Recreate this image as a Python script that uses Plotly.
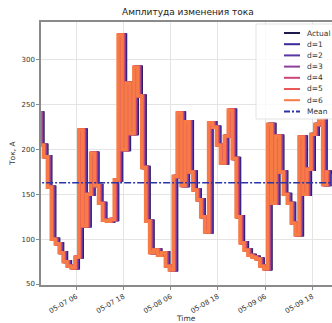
import pandas as pd
import plotly.graph_objects as go

# ---------------- data ----------------
start_time = "2021-05-06 21:00"
actual = [241, 205, 192, 158, 100, 95, 85, 75, 70, 68,
          80, 222, 115, 150, 196, 160, 140, 121, 120, 122,
          166, 328, 200, 274, 218, 292, 260, 180, 120, 85,
          88, 82, 85, 70, 66, 170, 241, 160, 231, 175,
          155, 144, 125, 108, 230, 225, 205, 185, 215, 244,
          190, 125, 96, 88, 82, 80, 78, 70, 67, 228,
          140, 215, 175, 150, 140, 118, 105, 214, 150, 178,
          217, 228, 233, 161, 175]
mean_value = 163
shifts = [0, 1, 2, 3, 4, 5, 6]          # d steps
series_names = ["Actual", "d=1", "d=2", "d=3", "d=4", "d=5", "d=6"]
series_colors = ["#1e1a4e", "#3a2c98", "#5a36a8", "#8e3f9c", "#c9477a", "#ea5858", "#f77b46"]
mean_name = "Mean"
mean_color = "#2b35a8"
tick_times = ["2021-05-07 06:00", "2021-05-07 18:00", "2021-05-08 06:00",
              "2021-05-08 18:00", "2021-05-09 06:00", "2021-05-09 18:00"]
tick_labels = ["05-07 06", "05-07 18", "05-08 06", "05-08 18", "05-09 06", "05-09 18"]
y_ticks = [50, 100, 150, 200, 250, 300]
title_text = "Амплитуда изменения тока"
x_title = "Time"
y_title = "Ток, А"

# ---------------- figure ----------------
W, H = 332, 323
ML, MR, MT, MB = 41, 0, 22, 38
PW, PH = W - ML - MR, H - MT - MB

times = pd.date_range(start_time, periods=len(actual), freq="h")
font = "DejaVu Sans"

fig = go.Figure()
for d, name, col in zip(shifts, series_names, series_colors):
    fig.add_trace(go.Scatter(
        x=times - pd.Timedelta(minutes=9 * d), y=actual, mode="lines",
        name=name, line=dict(color=col, width=3.4, shape="hvh"), showlegend=False))

fig.add_trace(go.Scatter(
    x=[times[0] - pd.Timedelta(hours=2), times[-1] + pd.Timedelta(hours=2)],
    y=[mean_value, mean_value], mode="lines", name=mean_name,
    line=dict(color=mean_color, width=1.5, dash="7px,2px,2px,2px"), showlegend=False))

def px_x(p):
    return (p - ML) / PW

def px_y(p):
    return (MT + PH - p) / PH

shapes = []
annotations = []
# legend frame
shapes.append(dict(type="rect", xref="paper", yref="paper",
                   x0=px_x(256), x1=px_x(340), y0=px_y(119), y1=px_y(24),
                   fillcolor="rgba(255,255,255,0.8)", line=dict(color="rgba(220,220,220,0.8)", width=1),
                   layer="above"))
leg_names = series_names + [mean_name]
leg_colors = series_colors + [mean_color]
leg_dash = ["solid"] * len(series_names) + ["6px,2px,2px,2px"]
for k, (nm, col, ds) in enumerate(zip(leg_names, leg_colors, leg_dash)):
    yy = 33 + k * 11.2
    shapes.append(dict(type="line", xref="paper", yref="paper",
                       x0=px_x(284), x1=px_x(300), y0=px_y(yy), y1=px_y(yy),
                       line=dict(color=col, width=2, dash=ds), layer="above"))
    annotations.append(dict(xref="paper", yref="paper", x=px_x(305), y=px_y(yy),
                            text=nm, showarrow=False, xanchor="left", yanchor="middle",
                            font=dict(family=font, size=7.5, color="#333333")))

annotations.append(dict(xref="paper", yref="paper", x=px_x(188), y=px_y(12),
                        text=title_text, showarrow=False, xanchor="center", yanchor="middle",
                        font=dict(family=font, size=9, color="#222222")))
annotations.append(dict(xref="paper", yref="paper", x=px_x(186), y=px_y(318),
                        text=x_title, showarrow=False, xanchor="center", yanchor="middle",
                        font=dict(family=font, size=7.5, color="#333333")))
annotations.append(dict(xref="paper", yref="paper", x=px_x(12), y=px_y(153),
                        text=y_title, showarrow=False, xanchor="center", yanchor="middle",
                        textangle=-90, font=dict(family=font, size=7.5, color="#333333")))

fig.update_layout(
    width=W, height=H,
    margin=dict(l=ML, r=MR, t=MT, b=MB, pad=0),
    paper_bgcolor="white", plot_bgcolor="white",
    showlegend=False,
    shapes=shapes, annotations=annotations,
    xaxis=dict(type="date", range=[times[0], times[-1]],
               tickvals=tick_times, ticktext=tick_labels, tickangle=-30,
               tickfont=dict(family=font, size=7, color="#333333"),
               showgrid=True, gridcolor="#e4e4e4", gridwidth=1,
               showline=True, linecolor="#8a8a8a", linewidth=1.5, mirror=True,
               ticks="outside", ticklen=3, tickcolor="#8a8a8a", zeroline=False),
    yaxis=dict(range=[48.9, 342.4], tickvals=y_ticks,
               tickfont=dict(family=font, size=7, color="#333333"),
               showgrid=True, gridcolor="#e4e4e4", gridwidth=1,
               showline=True, linecolor="#8a8a8a", linewidth=1.5,
               ticks="outside", ticklen=3, tickcolor="#8a8a8a", zeroline=False),
)

fig.write_html("out.html")
